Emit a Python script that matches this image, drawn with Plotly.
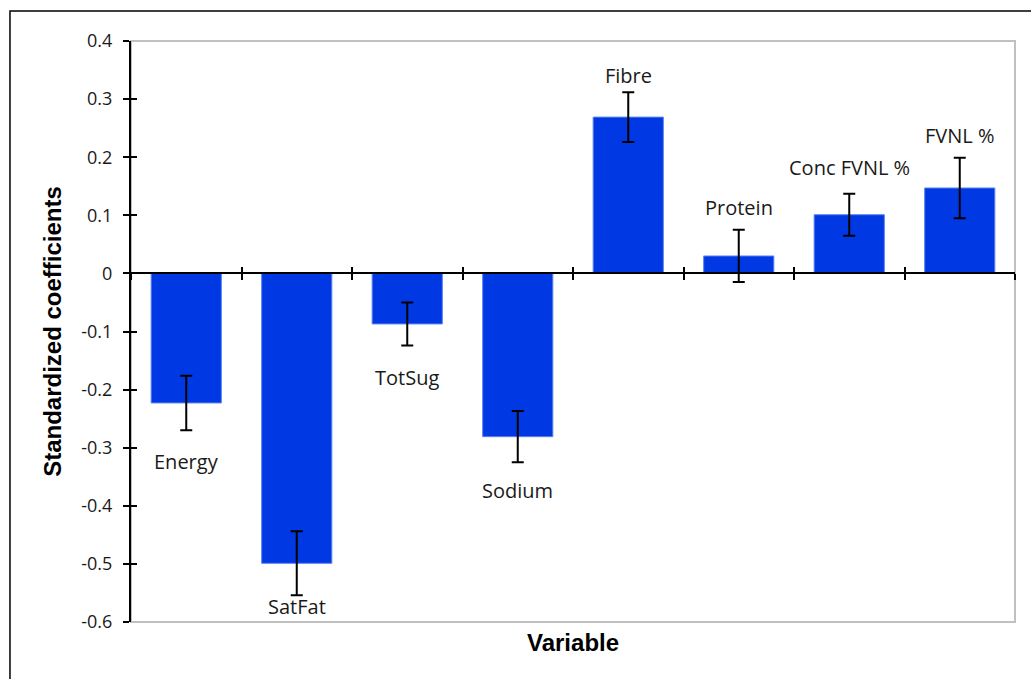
import plotly.graph_objects as go

# Standardized regression coefficients per dietary variable
variables = ["Energy", "SatFat", "TotSug", "Sodium", "Fibre", "Protein", "Conc FVNL %", "FVNL %"]
coefficients = [-0.223, -0.499, -0.087, -0.281, 0.269, 0.030, 0.101, 0.147]
errors = [0.047, 0.055, 0.037, 0.044, 0.043, 0.045, 0.036, 0.052]

# Vertical placement of each variable's name (data units)
label_y = [-0.323, -0.574, -0.180, -0.373, 0.340, 0.114, 0.183, 0.238]

y_ticks = [0.4, 0.3, 0.2, 0.1, 0.0, -0.1, -0.2, -0.3, -0.4, -0.5, -0.6]
y_tick_text = ["0.4", "0.3", "0.2", "0.1", "0", "-0.1", "-0.2", "-0.3", "-0.4", "-0.5", "-0.6"]

BAR_COLOR = "#0039e3"
LABEL_FONT = dict(family="Open Sans, DejaVu Sans, sans-serif", size=20, color="#1a1a1a")
Y_MIN, Y_MAX = -0.6, 0.4
zero_pos = (0 - Y_MIN) / (Y_MAX - Y_MIN)

fig = go.Figure()
fig.add_trace(go.Bar(
    x=variables, y=coefficients,
    marker=dict(color=BAR_COLOR, line=dict(color="#5a82f0", width=1)),
    error_y=dict(type="data", array=errors, color="black", thickness=2, width=6),
    hoverinfo="skip", showlegend=False,
))
# invisible copy on the overlay axis that carries the upward half of the tick marks
fig.add_trace(go.Bar(
    x=variables, y=coefficients, xaxis="x2", opacity=0,
    hoverinfo="skip", showlegend=False,
))

for name, ly in zip(variables, label_y):
    fig.add_annotation(x=name, y=ly, xref="x", yref="y", text=name,
                       showarrow=False, font=LABEL_FONT,
                       xanchor="center", yanchor="middle")

fig.add_annotation(x=0.5, y=0, xref="paper", yref="paper", text="<b>Variable</b>",
                   showarrow=False, yanchor="middle", yshift=-20,
                   font=dict(family="Arial, Liberation Sans, sans-serif", size=24, color="black"))

# plot-area frame and outer chart border
fig.add_shape(type="rect", xref="paper", yref="paper", x0=0, x1=1, y0=0, y1=1,
              line=dict(color="#c0c0c0", width=2), layer="below")
fig.add_shape(type="rect", xref="paper", yref="paper", x0=-0.1369, x1=1.05, y0=-0.2, y1=1.0516,
              line=dict(color="black", width=1.5), layer="below")

axis_common = dict(
    type="category", categoryarray=variables, categoryorder="array",
    range=[-0.5, len(variables) - 0.5], showgrid=False, zeroline=False,
    tickson="boundaries", showticklabels=False, ticklen=6, tickwidth=1.5,
    tickcolor="black", anchor="free", position=zero_pos, fixedrange=True,
)

fig.update_layout(
    width=1031, height=679,
    margin=dict(l=131, r=16, t=41, b=57),
    paper_bgcolor="white", plot_bgcolor="white",
    bargap=0.365,
    xaxis=dict(**axis_common, ticks="outside", showline=True, linecolor="black", linewidth=2),
    xaxis2=dict(**axis_common, ticks="inside", showline=False, overlaying="x"),
    yaxis=dict(
        range=[Y_MIN, Y_MAX], tickvals=y_ticks, ticktext=y_tick_text,
        ticks="outside", ticklen=6, tickwidth=1.5, tickcolor="black",
        showline=True, linecolor="black", linewidth=2,
        showgrid=False, zeroline=False, ticklabelstandoff=7,
        tickfont=dict(family="Open Sans, DejaVu Sans, sans-serif", size=18, color="#1a1a1a"),
        title=dict(text="<b>Standardized coefficients</b>", standoff=13,
                   font=dict(family="Arial, Liberation Sans, sans-serif", size=24, color="black")),
    ),
    yaxis2=dict(
        range=[Y_MIN, Y_MAX], tickvals=y_ticks, overlaying="y", anchor="x",
        ticks="inside", ticklen=6, tickwidth=1.5, tickcolor="black",
        showticklabels=False, showline=False, showgrid=False, zeroline=False,
    ),
)
fig.add_trace(go.Scatter(x=[None], y=[None], yaxis="y2", showlegend=False, hoverinfo="skip"))

fig.write_html("out.html")
